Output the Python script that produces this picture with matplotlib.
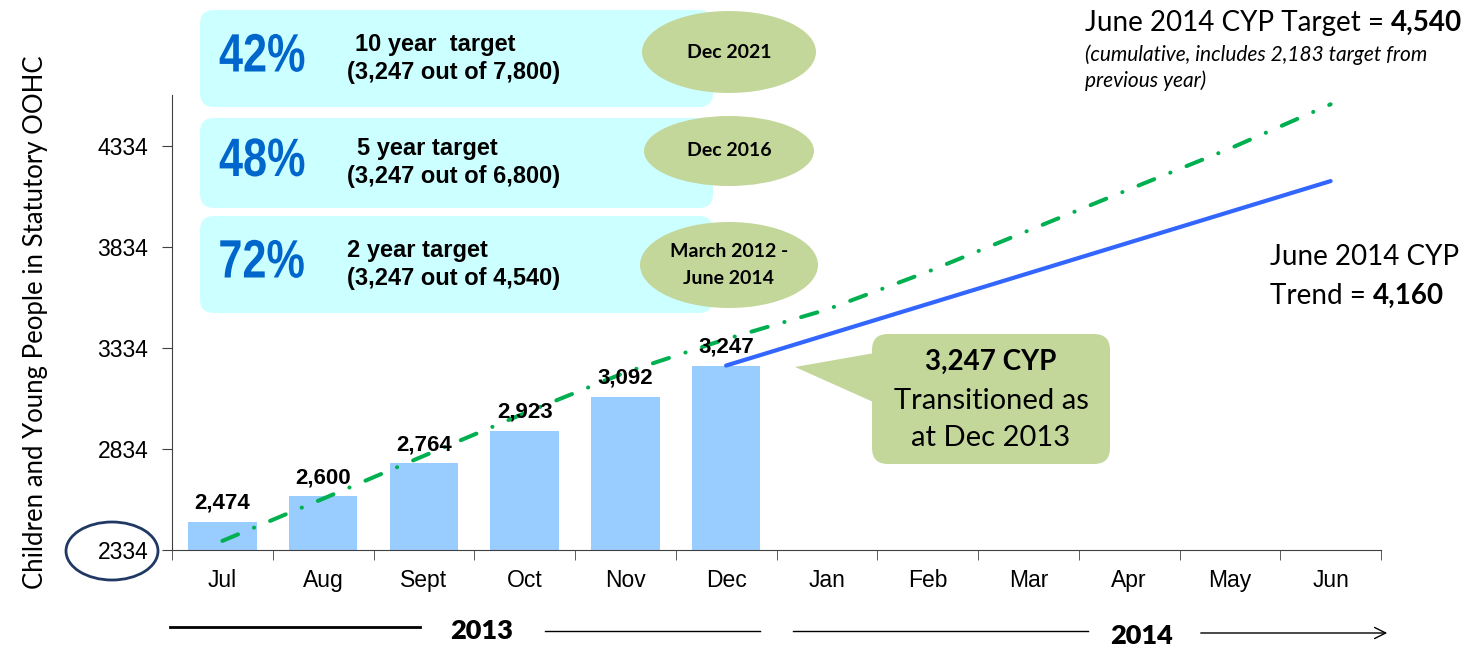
import matplotlib
matplotlib.use("Agg")
import matplotlib.pyplot as plt
from matplotlib.patches import FancyBboxPatch, Ellipse, Polygon, PathPatch
from matplotlib.textpath import TextPath
from matplotlib.font_manager import FontProperties
from matplotlib.transforms import Affine2D

W, H = 1469, 652

months = ["Jul", "Aug", "Sept", "Oct", "Nov", "Dec",
          "Jan", "Feb", "Mar", "Apr", "May", "Jun"]
transitioned = [2474, 2600, 2764, 2923, 3092, 3247]
target = [2379, 2588, 2800, 3011, 3213, 3378,
          3524, 3711, 3915, 4119, 4321, 4540]
trend_months = ["Dec", "Jun"]
trend = [3247, 4160]
y_ticks = [2334, 2834, 3334, 3834, 4334]

arial = "Liberation Sans"
calibri = "Lato"

plt.rcParams["font.family"] = arial

fig = plt.figure(figsize=(W / 100, H / 100), dpi=100)

# main chart axes, placed in pixels
left, right, top, bottom = 172, 1381, 95, 550
ax = fig.add_axes([left / W, 1 - bottom / H, (right - left) / W, (bottom - top) / H])

x = list(range(len(months)))
ax.bar(x[:len(transitioned)], transitioned, width=0.68, color="#99CCFF", zorder=2)
for xi, v in zip(x, transitioned):
    ax.text(xi, v + 40, f"{v:,}", ha="center", va="bottom",
            fontsize=16, fontweight="bold", zorder=5)

ax.plot(x, target, color="#00B050", lw=2.9,
        linestyle=(0, (4.2, 4.3, 0.05, 4.3)), dash_capstyle="round",
        solid_capstyle="round", zorder=3)
trend_x = [months.index(m) for m in trend_months]
ax.plot(trend_x, trend, color="#3366FF", lw=3, solid_capstyle="round", zorder=4)

ax.set_xlim(-0.5, 11.5)
ax.set_ylim(2334, 4586)
ax.set_yticks(y_ticks)
ax.set_yticklabels([str(t) for t in y_ticks], fontsize=16.5)
ax.set_xticks(x)
ax.set_xticklabels(months, fontsize=16.5)
ax.set_xticks([i - 0.5 for i in range(len(months) + 1)], minor=True)
ax.tick_params(axis="x", which="major", length=0, pad=14)
ax.tick_params(axis="x", which="minor", length=7, direction="out", color="#404040")
ax.tick_params(axis="y", length=7, direction="out", color="#404040", pad=10)
for s in ["top", "right"]:
    ax.spines[s].set_visible(False)
for s in ["left", "bottom"]:
    ax.spines[s].set_color("#404040")
ax.spines["bottom"].set_zorder(6)

# overlay in pixel coordinates for the annotations
ov = fig.add_axes([0, 0, 1, 1], facecolor="none")
ov.set_xlim(0, W)
ov.set_ylim(H, 0)
ov.axis("off")

ov.text(36, 322, "Children and Young People in Statutory OOHC", rotation=90,
        ha="center", va="center", fontsize=18.5, family=calibri)
ov.add_patch(Ellipse((112, 551), 92, 58, fill=False, edgecolor="#1F3864", lw=2))


def narrow_text(cx, baseline, s, size, squeeze, color):
    # condensed bold text: horizontally squeezed glyph outlines
    tp = TextPath((0, 0), s, size=size, prop=FontProperties(family=arial, weight="bold"))
    bb = tp.get_extents()
    tx = cx - (bb.x0 + bb.width / 2) * squeeze
    tr = Affine2D().scale(squeeze, -1).translate(tx, baseline)
    ov.add_patch(PathPatch(tr.transform_path(tp), facecolor=color, edgecolor="none"))


# target boxes
boxes = [
    (10, 107, "42%", "10 year  target", "(3,247 out of 7,800)", 355),
    (118, 208, "48%", "5 year target", "(3,247 out of 6,800)", 357),
    (216, 313, "72%", "2 year target", "(3,247 out of 4,540)", 347),
]
for y0, y1, pct, line1, line2, tx in boxes:
    ov.add_patch(FancyBboxPatch((200, y0), 513, y1 - y0,
                                boxstyle="round,pad=0,rounding_size=14",
                                facecolor="#CCFFFF", edgecolor="none"))
    cy = (y0 + y1) / 2
    narrow_text(262, cy + 13, pct, 54, 0.80, "#0066CC")
    ov.text(tx, cy - 14, line1, ha="left", va="center", fontsize=17, fontweight="bold")
    ov.text(347, cy + 14, line2, ha="left", va="center", fontsize=17, fontweight="bold")

ellipses = [((729, 52), 174, 82, "Dec 2021"),
            ((729, 151), 170, 70, "Dec 2016"),
            ((729, 265), 178, 86, "March 2012 -\nJune 2014")]
for c, ew, eh, txt in ellipses:
    ov.add_patch(Ellipse(c, ew, eh, facecolor="#C4D79B", edgecolor="none"))
    ov.text(c[0], c[1], txt, ha="center", va="center", fontsize=14,
            fontweight="bold", family=calibri, linespacing=1.7)

# callout
ov.add_patch(Polygon([(795, 367), (880, 352), (880, 405)], closed=True,
                     facecolor="#C4D79B", edgecolor="none"))
ov.add_patch(FancyBboxPatch((872, 334), 238, 130,
                            boxstyle="round,pad=0,rounding_size=16",
                            facecolor="#C4D79B", edgecolor="none"))
ov.text(991, 362, "3,247 CYP", ha="center", va="center", fontsize=20,
        fontweight="bold", family=calibri)
ov.text(991, 401, "Transitioned as", ha="center", va="center", fontsize=21, family=calibri)
ov.text(991, 438, "at Dec 2013", ha="center", va="center", fontsize=21, family=calibri)


# right-hand notes with bold numbers
def mixed(xp, yp, normal, bold, size):
    t1 = ov.text(xp, yp, normal, ha="left", va="baseline", fontsize=size, family=calibri)
    ov.annotate(bold, xy=(1, 0), xycoords=t1, ha="left", va="bottom",
                fontsize=size, fontweight="bold", family=calibri)


mixed(1085, 31, "June 2014 CYP Target = ", "4,540", 20)
ov.text(1085, 55, "(cumulative, includes 2,183 target from", ha="left", va="center",
        fontsize=15, style="italic", family=calibri)
ov.text(1085, 81, "previous year)", ha="left", va="center",
        fontsize=15, style="italic", family=calibri)
ov.text(1270, 257, "June 2014 CYP", ha="left", va="center", fontsize=20, family=calibri)
mixed(1270, 304, "Trend = ", "4,160", 20)

# year bands under the axis
ov.plot([170, 420], [627, 627], color="black", lw=2)
ov.text(482, 631, "2013", ha="center", va="center", fontsize=19.5,
        fontweight="heavy", family=calibri)
ov.plot([545, 760], [631, 631], color="black", lw=1)
ov.plot([793, 1088], [631, 631], color="black", lw=1)
ov.text(1142, 636, "2014", ha="center", va="center", fontsize=19.5,
        fontweight="heavy", family=calibri)
ov.annotate("", xy=(1390, 633), xytext=(1198, 633),
            arrowprops=dict(arrowstyle="->", color="black", lw=1, mutation_scale=20))

fig.savefig("out.png", dpi=100)
